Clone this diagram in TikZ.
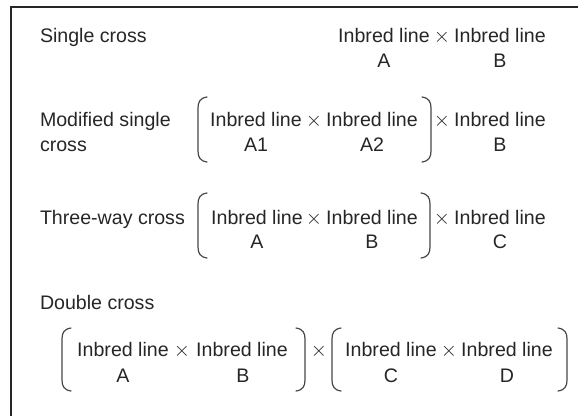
\documentclass[tikz,border=0pt]{standalone}
\usepackage{fontspec}
\setmainfont{Liberation Sans}
\definecolor{ink}{RGB}{38,38,38}
\definecolor{pcol}{RGB}{70,70,70}
\newcommand\dfont{\fontsize{19.6}{24}\selectfont}
\newcommand\myLP[3]{\draw[paren] (#1+9,#2) .. controls (#1+2,#2+1) and (#1,#2+5) .. (#1,#2+11) -- (#1,#3-11) .. controls (#1,#3-5) and (#1+2,#3-1) .. (#1+9,#3);}
\newcommand\myRP[3]{\draw[paren] (#1-9,#2) .. controls (#1-2,#2+1) and (#1,#2+5) .. (#1,#2+11) -- (#1,#3-11) .. controls (#1,#3-5) and (#1-2,#3-1) .. (#1-9,#3);}
\begin{document}
\begin{tikzpicture}[x=1pt,y=-1pt,
  txt/.style={inner sep=0pt, outer sep=0pt, anchor=base, font=\dfont, text=ink},
  lbl/.style={txt, anchor=base west},
  paren/.style={draw=pcol, line width=1.2pt, line cap=round},
  frame/.style={draw=ink, line width=1.4pt}]
\useasboundingbox (0,0) rectangle (578,416);
\draw[frame] (578,7) -- (11,7) -- (11,416);

% Row 1: single cross
\node[lbl] (t1) at (40,42) {Single cross};
\node[txt] (r1a) at (384,42) {Inbred line};
\node[txt] (r1x) at (442,42) {$\times$};
\node[txt] (r1b) at (500,42) {Inbred line};
\node[txt] (r1la) at (384,67) {A};
\node[txt] (r1lb) at (500,67) {B};

% Row 2: modified single cross
\node[lbl] (t2a) at (40,126) {Modified single};
\node[lbl] (t2b) at (40,151) {cross};
\myLP{198}{97}{162}
\node[txt] (r2a) at (256,126) {Inbred line};
\node[txt] (r2x) at (314,126) {$\times$};
\node[txt] (r2b) at (372,126) {Inbred line};
\node[txt] (r2la) at (256,151) {A1};
\node[txt] (r2lb) at (372,151) {A2};
\myRP{431}{97}{162}
\node[txt] (r2y) at (442,126) {$\times$};
\node[txt] (r2c) at (500,126) {Inbred line};
\node[txt] (r2lc) at (500,151) {B};

% Row 3: three-way cross
\node[lbl] (t3) at (40,224) {Three-way cross};
\myLP{198}{193}{258}
\node[txt] (r3a) at (257,224) {Inbred line};
\node[txt] (r3x) at (314,224) {$\times$};
\node[txt] (r3b) at (372,224) {Inbred line};
\node[txt] (r3la) at (257,248) {A};
\node[txt] (r3lb) at (372,248) {B};
\myRP{430}{193}{258}
\node[txt] (r3y) at (442,224) {$\times$};
\node[txt] (r3c) at (500,224) {Inbred line};
\node[txt] (r3lc) at (500,248) {C};

% Row 4: double cross
\node[lbl] (t4) at (40,309) {Double cross};
\myLP{62}{328}{391}
\node[txt] (r4a) at (123,356) {Inbred line};
\node[txt] (r4x) at (182,356) {$\times$};
\node[txt] (r4b) at (242,356) {Inbred line};
\node[txt] (r4la) at (123,382) {A};
\node[txt] (r4lb) at (243,382) {B};
\myRP{305}{328}{391}
\node[txt] (r4y) at (319,356) {$\times$};
\myLP{332}{328}{391}
\node[txt] (r4c) at (391,356) {Inbred line};
\node[txt] (r4z) at (449,356) {$\times$};
\node[txt] (r4d) at (507,356) {Inbred line};
\node[txt] (r4lc) at (391,382) {C};
\node[txt] (r4ld) at (507,382) {D};
\myRP{567}{328}{391}
\end{tikzpicture}
\end{document}
